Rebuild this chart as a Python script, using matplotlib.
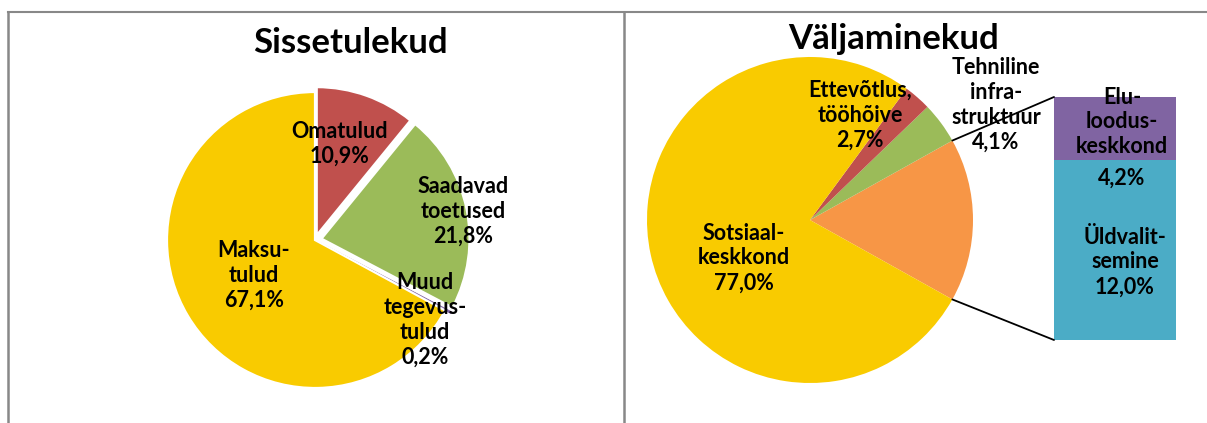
import matplotlib
matplotlib.use("Agg")
import matplotlib.pyplot as plt
from matplotlib.patches import ConnectionPatch
import numpy as np

plt.rcParams['font.family'] = ['Lato', 'DejaVu Sans']

# ---- data ----
in_labels = ["Omatulud", "Saadavad\ntoetused", "Muud\ntegevus-\ntulud", "Maksu-\ntulud"]
in_values = [10.9, 21.8, 0.2, 67.1]
in_colors = ["#C0504D", "#9BBB59", "#8064A2", "#F9CB00"]

out_labels = ["Sotsiaal-\nkeskkond", "Ettevõtlus,\ntööhõive", "Tehniline\ninfra-\nstruktuur"]
out_values = [77.0, 2.7, 4.1]
out_colors = ["#F9CB00", "#C0504D", "#9BBB59"]

bar_labels = ["Üldvalit-\nsemine", "Elu-\nloodus-\nkeskkond"]
bar_values = [12.0, 4.2]
bar_colors = ["#4BACC6", "#8064A2"]
other_color = "#F79646"

W, H = 1207, 423
fig = plt.figure(figsize=(W / 100, H / 100), dpi=100)

def fx(px):
    return px / W

def fy(py):
    return 1 - py / H

def fmt(v):
    return f"{v:.1f}".replace(".", ",") + "%"

# background axes for frames
bg = fig.add_axes([0, 0, 1, 1])
bg.set_xlim(0, W)
bg.set_ylim(H, 0)
bg.axis("off")
fc = "#888888"
bg.plot([8, 8], [12, H + 5], color=fc, lw=1.8)
bg.plot([8, W + 5], [12, 12], color=fc, lw=1.5)
bg.plot([624, 624], [12, H + 5], color=fc, lw=1.8)

def pie_axes(cx, cy, r, lim=1.25):
    half = r * lim
    ax = fig.add_axes([fx(cx - half), fy(cy + half), 2 * half / W, 2 * half / H])
    ax.set_xlim(-lim, lim)
    ax.set_ylim(-lim, lim)
    ax.axis("off")
    return ax

# ---- left pie ----
lcx, lcy, lr = 315, 240, 148
ax1 = pie_axes(lcx, lcy, lr)
wedges1, _ = ax1.pie(in_values, colors=in_colors, startangle=90, counterclock=False,
                     explode=[0.035, 0.045, 0.045, 0.0], radius=1,
                     wedgeprops=dict(edgecolor="white", linewidth=1.6))
wedges1[2].set_edgecolor("#8064A2")
wedges1[2].set_linewidth(0.6)
for w in wedges1:
    w.set_clip_on(False)

lab_font = dict(fontsize=15.5, fontweight="bold", ha="center", va="center",
                linespacing=1.22, color="black")
in_pos = [(340, 144), (463, 211), (425, 320), (254, 275)]
for lab, v, (px, py) in zip(in_labels, in_values, in_pos):
    fig.text(fx(px), fy(py), lab + "\n" + fmt(v), **lab_font)

fig.text(fx(350), fy(53), "Sissetulekud", fontsize=25, fontweight="bold",
         ha="center", va="baseline")

# ---- right pie (pie of bar) ----
rcx, rcy, rr = 810, 220, 163
ax2 = pie_axes(rcx, rcy, rr)
other = sum(bar_values)
vals2 = [other, out_values[2], out_values[1], out_values[0]]
cols2 = [other_color, out_colors[2], out_colors[1], out_colors[0]]
ang = other / 100 * 360
wedges2, _ = ax2.pie(vals2, colors=cols2, startangle=-ang / 2, counterclock=True,
                     radius=1, wedgeprops=dict(linewidth=0))

# bar
bx0, bx1, by0, by1 = 1054, 1176, 97, 340
axb = fig.add_axes([fx(bx0), fy(by1), (bx1 - bx0) / W, (by1 - by0) / H])
bottom = 0
for v, c in zip(bar_values, bar_colors):
    axb.bar([0], [v], bottom=bottom, width=1.0, color=c, linewidth=0)
    bottom += v
axb.set_xlim(-0.5, 0.5)
axb.set_ylim(0, other)
axb.axis("off")

t = np.deg2rad(ang / 2)
for (px, py), (bxp, byp) in [((np.cos(t), np.sin(t)), (-0.5, other)),
                             ((np.cos(-t), np.sin(-t)), (-0.5, 0))]:
    con = ConnectionPatch(xyA=(px, py), coordsA=ax2.transData,
                          xyB=(bxp, byp), coordsB=axb.transData,
                          color="black", lw=1.3)
    fig.add_artist(con)

out_pos = [(744, 258), (860, 115), (996, 105)]
for lab, v, (px, py) in zip(out_labels, out_values, out_pos):
    fig.text(fx(px), fy(py), lab + "\n" + fmt(v), **lab_font)

fig.text(fx(1122), fy(122), bar_labels[1], **lab_font)
fig.text(fx(1122), fy(178), fmt(bar_values[1]), **lab_font)
fig.text(fx(1125), fy(262), bar_labels[0] + "\n" + fmt(bar_values[0]), **lab_font)

fig.text(fx(894), fy(49), "Väljaminekud", fontsize=25, fontweight="bold",
         ha="center", va="baseline")

fig.savefig("out.png", dpi=100)
